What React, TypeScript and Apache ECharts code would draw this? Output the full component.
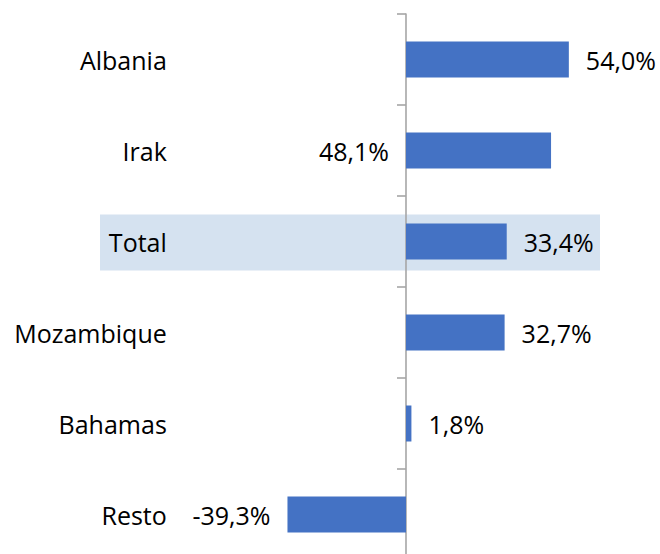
import React, { useEffect, useRef } from "react";
import * as echarts from "echarts";

const categories = ["Albania", "Irak", "Total", "Mozambique", "Bahamas", "Resto"];
const values = [54.0, 48.1, 33.4, 32.7, 1.8, -39.3];
const labelPositions = ["right", "left", "right", "right", "right", "left"];
const highlightCategory = "Total";

const FONT = "'Open Sans', 'Noto Sans', sans-serif";

export default function App() {
  const ref = useRef<HTMLDivElement>(null);
  useEffect(() => {
    if (!ref.current) return;
    const chart = echarts.init(ref.current, null, { renderer: "svg" });
    chart.setOption({
      animation: false,
      grid: { left: 179.8, width: 437.3, top: 14, height: 546, containLabel: false },
      xAxis: {
        type: "value",
        min: -75,
        max: 70,
        show: false,
        splitLine: { show: false },
      },
      yAxis: [
        {
          type: "category",
          inverse: true,
          data: categories,
          axisLine: { show: true, onZero: true, lineStyle: { color: "#A6A6A6", width: 1.6 } },
          axisTick: { show: true, length: 9, lineStyle: { color: "#A6A6A6", width: 1.6 } },
          axisLabel: { show: false },
          splitLine: { show: false },
        },
        {
          type: "category",
          inverse: true,
          position: "left",
          data: categories,
          axisLine: { show: false, onZero: false },
          axisTick: { show: false },
          axisLabel: { margin: 13, fontSize: 25, color: "#000", fontFamily: FONT },
          splitLine: { show: false },
        },
      ],
      series: [
        {
          type: "bar",
          xAxisIndex: 0,
          yAxisIndex: 0,
          barWidth: 36,
          itemStyle: { color: "#4472C4" },
          data: values.map((v, i) => ({
            value: v,
            label: { position: labelPositions[i] },
          })),
          label: {
            show: true,
            distance: 17,
            fontSize: 25,
            color: "#000",
            fontFamily: FONT,
            formatter: (p: any) => p.value.toFixed(1).replace(".", ",") + "%",
          },
        },
      ],
    });
    const cy = chart.convertToPixel({ yAxisIndex: 0 }, highlightCategory) as number;
    chart.setOption({
      graphic: [
        {
          type: "rect",
          z: -1,
          silent: true,
          shape: { x: 100, y: cy - 27, width: 500, height: 56 },
          style: { fill: "#D5E2F0" },
        },
      ],
    });
    return () => chart.dispose();
  }, []);
  return (
    <div
      style={{
        position: "absolute",
        left: 0,
        top: 0,
        width: 660,
        height: 554,
        overflow: "hidden",
      }}
    >
      <div ref={ref} style={{ width: 660, height: 580 }} />
    </div>
  );
}
